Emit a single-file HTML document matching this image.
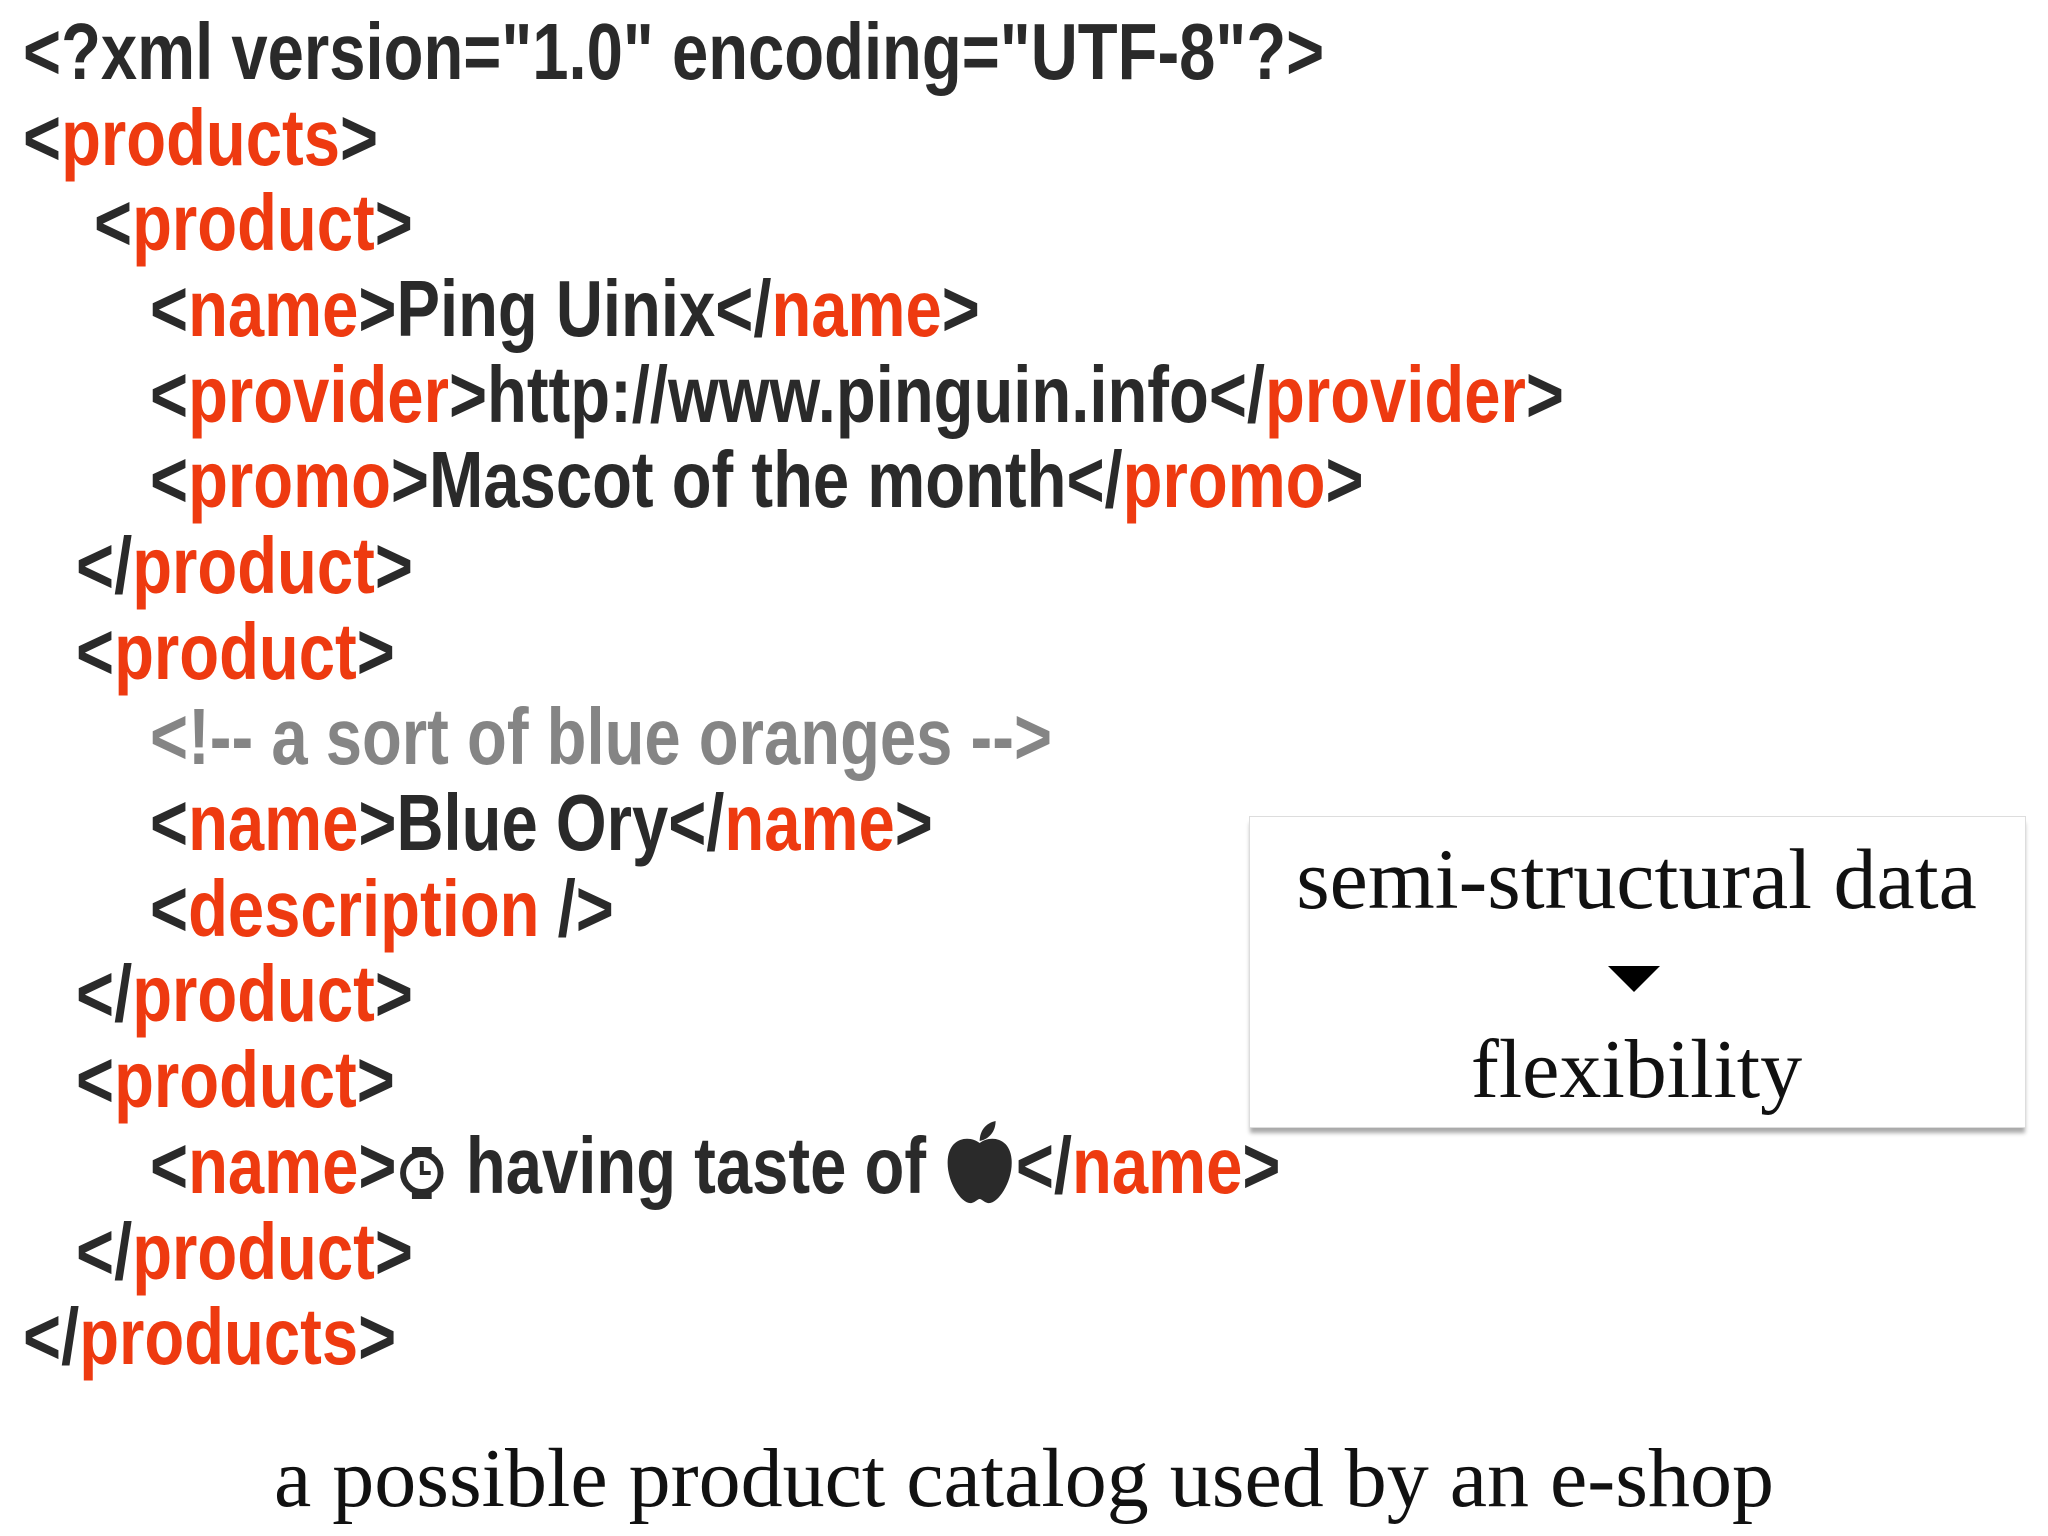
<!DOCTYPE html>
<html><head><meta charset="utf-8"><style>
html,body{margin:0;padding:0;background:#fff;}
body{width:2048px;height:1536px;position:relative;overflow:hidden;}
.l{position:absolute;white-space:pre;font-family:"Liberation Sans Narrow","Liberation Sans",sans-serif;font-weight:bold;font-size:80px;line-height:1;color:#2a2a2a;transform:scaleX(0.815);transform-origin:0 0;}
.r{color:#ee3a10;}
.c{color:#858585;}
.box{position:absolute;left:1249px;top:816px;width:775px;height:310px;background:#fff;border:1px solid #ddd;box-shadow:0 6px 4px -1px #aaa;}
.s{position:absolute;font-family:"Liberation Serif",serif;color:#111;white-space:pre;line-height:1;}
.ic{display:inline-block;position:relative;height:10px;}
.ic svg{position:absolute;left:0;}
</style></head><body>
<div class="l" style="left:23px;top:12px">&lt;?xml version="1.0" encoding="UTF-8"?&gt;</div>
<div class="l" style="left:23px;top:98px">&lt;<span class="r">products</span>&gt;</div>
<div class="l" style="left:94px;top:183px">&lt;<span class="r">product</span>&gt;</div>
<div class="l" style="left:150px;top:269px">&lt;<span class="r">name</span>&gt;Ping Uinix&lt;/<span class="r">name</span>&gt;</div>
<div class="l" style="left:150px;top:355px">&lt;<span class="r">provider</span>&gt;http://www.pinguin.info&lt;/<span class="r">provider</span>&gt;</div>
<div class="l" style="left:150px;top:440px">&lt;<span class="r">promo</span>&gt;Mascot of the month&lt;/<span class="r">promo</span>&gt;</div>
<div class="l" style="left:76px;top:526px">&lt;/<span class="r">product</span>&gt;</div>
<div class="l" style="left:76px;top:612px">&lt;<span class="r">product</span>&gt;</div>
<div class="l c" style="left:150px;top:697px">&lt;!-- a sort of blue oranges --&gt;</div>
<div class="l" style="left:150px;top:783px">&lt;<span class="r">name</span>&gt;Blue Ory&lt;/<span class="r">name</span>&gt;</div>
<div class="l" style="left:150px;top:869px">&lt;<span class="r">description</span> /&gt;</div>
<div class="l" style="left:76px;top:954px">&lt;/<span class="r">product</span>&gt;</div>
<div class="l" style="left:76px;top:1040px">&lt;<span class="r">product</span>&gt;</div>
<div class="l" style="left:150px;top:1126px">&lt;<span class="r">name</span>&gt;<span class="ic" style="width:63px"><svg width="63" height="56" viewBox="0 0 52 56" preserveAspectRatio="none" style="bottom:-8px"><rect x="16" y="2" width="20" height="10" fill="#2a2a2a"/><rect x="16" y="44" width="20" height="10" fill="#2a2a2a"/><circle cx="26" cy="28" r="19" fill="none" stroke="#2a2a2a" stroke-width="6"/><path d="M26 16V28H35" stroke="#2a2a2a" stroke-width="4" fill="none"/></svg></span> having taste of <span class="ic" style="width:88px"><svg width="88" height="88" viewBox="0 0 72 88" preserveAspectRatio="none" style="bottom:-14px"><path d="M36 24C26 16 6 18 4 40C2 62 18 86 28 84C32 83 34 80 36 80C38 80 40 83 44 84C54 86 70 62 68 40C66 18 46 16 36 24Z" fill="#2a2a2a"/><path d="M36 22C36 12 42 4 52 2C52 12 46 20 36 22Z" fill="#2a2a2a"/></svg></span>&lt;/<span class="r">name</span>&gt;</div>
<div class="l" style="left:76px;top:1212px">&lt;/<span class="r">product</span>&gt;</div>
<div class="l" style="left:23px;top:1297px">&lt;/<span class="r">products</span>&gt;</div>
<div class="box"></div>
<div class="s" style="left:1249px;width:775px;text-align:center;top:836px;font-size:86px">semi-structural data</div>
<svg style="position:absolute;left:1608px;top:966px" width="52" height="26"><polygon points="0,0 52,0 26,26" fill="#000"/></svg>
<div class="s" style="left:1249px;width:775px;text-align:center;top:1028px;font-size:84px">flexibility</div>
<div class="s" style="left:0;width:2048px;text-align:center;top:1437px;font-size:84px">a possible product catalog used by an e-shop</div>
</body></html>
